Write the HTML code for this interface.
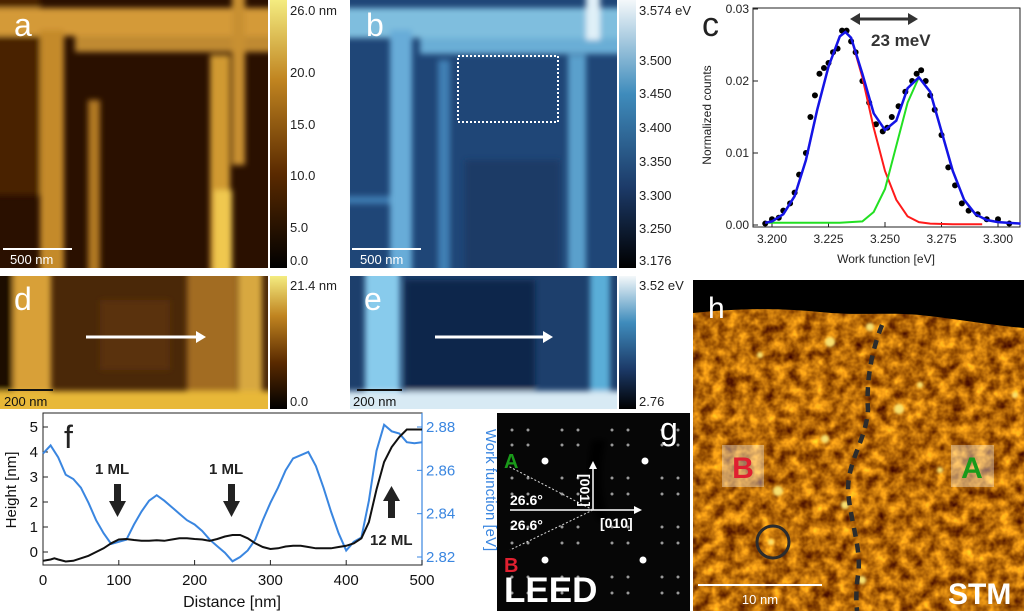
<!DOCTYPE html>
<html><head><meta charset="utf-8">
<style>
html,body{margin:0;padding:0;background:#fff;}
svg{display:block;font-family:"Liberation Sans",Arial,sans-serif;}
</style></head>
<body>
<svg id="fig" width="1024" height="611" viewBox="0 0 1024 611">
<defs>
  <filter id="blur3"><feGaussianBlur stdDeviation="3"/></filter>
  <filter id="blur1"><feGaussianBlur stdDeviation="1.2"/></filter>
  <clipPath id="clipA"><rect x="0" y="0" width="268" height="268"/></clipPath>
  <clipPath id="clipB"><rect x="350" y="0" width="267" height="268"/></clipPath>
  <clipPath id="clipD"><rect x="0" y="276" width="268" height="133"/></clipPath>
  <clipPath id="clipE"><rect x="350" y="276" width="267" height="133"/></clipPath>
  <linearGradient id="cbA" x1="0" y1="1" x2="0" y2="0">
    <stop offset="0" stop-color="#000"/><stop offset="0.35" stop-color="#5a2a00"/><stop offset="0.7" stop-color="#c08420"/><stop offset="1" stop-color="#f4ec80"/>
  </linearGradient>
  <linearGradient id="cbB" x1="0" y1="1" x2="0" y2="0">
    <stop offset="0" stop-color="#000"/><stop offset="0.3" stop-color="#1c3a68"/><stop offset="0.65" stop-color="#3f8cbc"/><stop offset="1" stop-color="#f4f8fa"/>
  </linearGradient>
  <filter id="stmNoise" x="0" y="0" width="100%" height="100%" color-interpolation-filters="sRGB">
    <feTurbulence type="fractalNoise" baseFrequency="0.08" numOctaves="3" seed="4" result="n"/>
    <feColorMatrix in="n" type="matrix" values="1.2 0 0 0 0.12  1.0 0 0 0 -0.08  0.25 0 0 0 -0.09  0 0 0 0 1"/>
  </filter>
</defs>

<!-- Panel a -->
<g>
  <rect x="0" y="0" width="268" height="268" fill="#2a1000"/>
  <g filter="url(#blur3)" clip-path="url(#clipA)">
    <rect x="-10" y="-10" width="50" height="205" fill="#4a2205"/>
    <rect x="-10" y="8" width="290" height="28" fill="#d49a38"/>
    <rect x="75" y="36" width="203" height="16" fill="#c08a30"/>
    <rect x="40" y="30" width="24" height="248" fill="#c48a2a"/>
    <rect x="88" y="100" width="12" height="178" fill="#b07820"/>
    <rect x="210" y="55" width="20" height="223" fill="#d09a30"/>
    <rect x="214" y="190" width="18" height="88" fill="#f0c850"/>
    <rect x="232" y="-10" width="13" height="175" fill="#c89030"/>
  </g>
  <line x1="3" y1="249" x2="72" y2="249" stroke="#fff" stroke-width="2"/>
  <text x="10" y="264" fill="#fff" font-size="13">500 nm</text>
  <text x="14" y="36" fill="#fff" font-size="32">a</text>
  <rect x="270" y="0" width="17" height="268" fill="url(#cbA)"/>
  <g font-size="13" fill="#222">
    <text x="290" y="15">26.0 nm</text><text x="290" y="77">20.0</text><text x="290" y="129">15.0</text>
    <text x="290" y="180">10.0</text><text x="290" y="232">5.0</text><text x="290" y="265">0.0</text>
  </g>
</g>

<!-- Panel b -->
<g>
  <rect x="350" y="0" width="267" height="268" fill="#1f4677"/>
  <g filter="url(#blur3)" clip-path="url(#clipB)">
    <rect x="340" y="8" width="290" height="30" fill="#7fbede"/>
    <rect x="420" y="38" width="207" height="16" fill="#6aaed6"/>
    <rect x="390" y="30" width="22" height="248" fill="#68acd8"/>
    <rect x="438" y="60" width="12" height="218" fill="#3f7fb4"/>
    <rect x="568" y="55" width="18" height="223" fill="#5aa0cc"/>
    <rect x="586" y="-10" width="14" height="50" fill="#e0f0f8"/>
    <rect x="340" y="196" width="50" height="8" fill="#3c7ab0"/>
    <rect x="465" y="160" width="95" height="118" fill="#1a3a66"/>
  </g>
  <rect x="458" y="56" width="100" height="66" fill="none" stroke="#fff" stroke-width="2" stroke-dasharray="2,2"/>
  <line x1="352" y1="249" x2="421" y2="249" stroke="#fff" stroke-width="2"/>
  <text x="360" y="264" fill="#fff" font-size="13">500 nm</text>
  <text x="366" y="36" fill="#fff" font-size="32">b</text>
  <rect x="619" y="0" width="17" height="268" fill="url(#cbB)"/>
  <g font-size="13" fill="#222">
    <text x="639" y="15">3.574 eV</text><text x="639" y="65">3.500</text><text x="639" y="98">3.450</text>
    <text x="639" y="132">3.400</text><text x="639" y="166">3.350</text><text x="639" y="200">3.300</text>
    <text x="639" y="233">3.250</text><text x="639" y="265">3.176</text>
  </g>
</g>

<!-- Panel d -->
<g>
  <rect x="0" y="276" width="268" height="133" fill="#4a2808"/>
  <g filter="url(#blur3)" clip-path="url(#clipD)">
    <rect x="-10" y="266" width="22" height="125" fill="#1a0800"/>
    <rect x="13" y="266" width="38" height="125" fill="#d8a038"/>
    <rect x="100" y="300" width="70" height="70" fill="#5a3210"/>
    <rect x="187" y="266" width="50" height="125" fill="#a26c22"/>
    <rect x="238" y="266" width="24" height="125" fill="#d8a840"/>
    <rect x="-10" y="391" width="290" height="28" fill="#e8b838"/>
  </g>
  <line x1="86" y1="337" x2="196" y2="337" stroke="#fff" stroke-width="3"/>
  <polygon points="196,331 206,337 196,343" fill="#fff"/>
  <line x1="8" y1="390" x2="53" y2="390" stroke="#111" stroke-width="2"/>
  <text x="4" y="406" fill="#111" font-size="13">200 nm</text>
  <text x="14" y="310" fill="#fff" font-size="32">d</text>
  <rect x="270" y="276" width="17" height="133" fill="url(#cbA)"/>
  <text x="290" y="290" font-size="13" fill="#222">21.4 nm</text>
  <text x="290" y="406" font-size="13" fill="#222">0.0</text>
</g>

<!-- Panel e -->
<g>
  <rect x="350" y="276" width="267" height="133" fill="#1d3f6c"/>
  <g filter="url(#blur3)" clip-path="url(#clipE)">
    <rect x="405" y="280" width="130" height="110" fill="#10284c"/>
    <rect x="365" y="266" width="35" height="125" fill="#88cbec"/>
    <rect x="590" y="266" width="20" height="125" fill="#5aaed8"/>
    <rect x="340" y="391" width="290" height="28" fill="#d8eaf4"/>
  </g>
  <line x1="435" y1="337" x2="543" y2="337" stroke="#fff" stroke-width="3"/>
  <polygon points="543,331 553,337 543,343" fill="#fff"/>
  <line x1="357" y1="390" x2="402" y2="390" stroke="#111" stroke-width="2"/>
  <text x="353" y="406" fill="#111" font-size="13">200 nm</text>
  <text x="364" y="310" fill="#fff" font-size="32">e</text>
  <rect x="619" y="276" width="17" height="133" fill="url(#cbB)"/>
  <text x="639" y="290" font-size="13" fill="#222">3.52 eV</text>
  <text x="639" y="406" font-size="13" fill="#222">2.76</text>
</g>

<!-- Panel c chart -->
<g id="panelC">
  <text x="702" y="36" font-size="34" fill="#222">c</text>
  <rect x="753" y="8" width="267" height="219" fill="none" stroke="#222" stroke-width="1"/>
  <text transform="translate(711,115) rotate(-90)" text-anchor="middle" font-size="12" fill="#222">Normalized counts</text>
  <text x="886" y="263" text-anchor="middle" font-size="12" fill="#222">Work function [eV]</text>
  <line x1="855" y1="19" x2="913" y2="19" stroke="#333" stroke-width="3"/>
  <polygon points="850,19 860,13 860,25" fill="#333"/><polygon points="918,19 908,13 908,25" fill="#333"/>
  <text x="871" y="46" font-size="17" font-weight="bold" fill="#333">23 meV</text>
</g>

<!-- Panel f chart -->
<g id="panelF">
  <rect x="43" y="413" width="379" height="152" fill="none" stroke="#222" stroke-width="1"/>
  <line x1="422" y1="413" x2="422" y2="565" stroke="#3a86e0" stroke-width="1.2"/>
  <text x="64" y="448" font-size="32" fill="#222">f</text>
  <text transform="translate(16,490) rotate(-90)" text-anchor="middle" font-size="15" fill="#111">Height [nm]</text>
  <text transform="translate(486,490) rotate(90)" text-anchor="middle" font-size="15" fill="#3a86e0">Work function [eV]</text>
  <text x="232" y="607" text-anchor="middle" font-size="16" fill="#111">Distance [nm]</text>
  <g font-size="15" font-weight="bold" fill="#222">
    <text x="95" y="474">1 ML</text>
    <text x="209" y="474">1 ML</text>
    <text x="370" y="545">12 ML</text>
  </g>
  <g fill="#222">
    <rect x="114" y="484" width="7" height="18"/><polygon points="109,501 126,501 117.5,517"/>
    <rect x="228" y="484" width="7" height="18"/><polygon points="223,501 240,501 231.5,517"/>
    <rect x="388" y="500" width="7" height="18"/><polygon points="383,501 400,501 391.5,486"/>
  </g>
</g>

<!-- Panel g LEED -->
<g id="panelG">
  <rect x="497" y="413" width="193" height="198" fill="#060606"/>
  <g id="smallSpots" fill="#999"></g>
  <path d="M592,440 C585,470 588,500 598,520 L612,525 C600,500 598,470 606,440 Z" fill="#000" filter="url(#blur3)"/>
  <g fill="#fff">
    <circle cx="545" cy="461" r="3.5"/><circle cx="645" cy="461" r="3.5"/>
    <circle cx="545" cy="560" r="3.5"/><circle cx="643" cy="560" r="3.5"/>
  </g>
  <line x1="510" y1="510" x2="637" y2="510" stroke="#fff" stroke-width="1.5"/>
  <polygon points="642,510 634,506 634,514" fill="#fff"/>
  <line x1="593" y1="510" x2="593" y2="467" stroke="#fff" stroke-width="1.5"/>
  <polygon points="593,461 589,469 597,469" fill="#fff"/>
  <line x1="593" y1="510" x2="508" y2="466" stroke="#ddd" stroke-width="1" stroke-dasharray="2,2"/>
  <line x1="593" y1="510" x2="510" y2="550" stroke="#ddd" stroke-width="1" stroke-dasharray="2,2"/>
  <text x="504" y="468" font-size="20" font-weight="bold" fill="#1a9a1a">A</text>
  <text x="504" y="572" font-size="20" font-weight="bold" fill="#e02030">B</text>
  <text x="510" y="505" font-size="14" font-weight="bold" fill="#fff">26.6°</text>
  <text x="510" y="530" font-size="14" font-weight="bold" fill="#fff">26.6°</text>
  <text x="600" y="528" font-size="14" font-weight="bold" fill="#fff">[010]</text>
  <text transform="translate(580,474) rotate(90)" font-size="14" font-weight="bold" fill="#fff">[001]</text>
  <text x="504" y="602" font-size="35" font-weight="bold" fill="#fff">LEED</text>
  <text x="660" y="440" font-size="32" fill="#fff">g</text>
</g>

<!-- Panel h STM -->
<g>
  <rect x="693" y="280" width="331" height="331" fill="#a86a0c"/>
  <rect x="693" y="280" width="331" height="331" filter="url(#stmNoise)"/>
  <g fill="#f8e070" filter="url(#blur1)">
    <circle cx="825" cy="439" r="4"/><circle cx="778" cy="491" r="5"/><circle cx="899" cy="409" r="5"/>
    <circle cx="771" cy="542" r="3"/><circle cx="862" cy="580" r="4"/><circle cx="845" cy="505" r="4"/>
    <circle cx="920" cy="385" r="3"/><circle cx="760" cy="355" r="3"/><circle cx="870" cy="327" r="4"/>
    <circle cx="1015" cy="395" r="3"/><circle cx="940" cy="470" r="3"/><circle cx="830" cy="342" r="5"/>
  </g>
  <path d="M693,280 L1024,280 L1024,328 C990,325 950,318 920,315 C880,312 860,316 820,312 C780,308 740,308 693,313 Z" fill="#000"/>
  <path d="M882,325 C872,350 866,380 868,410 C866,440 848,460 848,490 C850,520 862,550 858,575 C856,590 856,600 857,611" fill="none" stroke="#2c2c2c" stroke-width="4.5" stroke-dasharray="9,7"/>
  <rect x="722" y="445" width="42" height="42" fill="#fff" opacity="0.35"/>
  <text x="743" y="478" text-anchor="middle" font-size="30" font-weight="bold" fill="#e02030">B</text>
  <rect x="951" y="445" width="43" height="42" fill="#fff" opacity="0.35"/>
  <text x="972" y="478" text-anchor="middle" font-size="30" font-weight="bold" fill="#1a9a1a">A</text>
  <circle cx="773" cy="542" r="16" fill="none" stroke="#2c2c2c" stroke-width="3"/>
  <line x1="698" y1="585" x2="822" y2="585" stroke="#fff" stroke-width="2"/>
  <text x="760" y="604" text-anchor="middle" font-size="13" fill="#fff">10 nm</text>
  <text x="948" y="604" font-size="30" font-weight="bold" fill="#fff">STM</text>
  <text x="708" y="318" font-size="30" fill="#fff">h</text>
</g>
</svg>

<script>
// ---------- Panel c data ----------
const cTickX = [3.200, 3.225, 3.250, 3.275, 3.300];
const cTickY = [0.00, 0.01, 0.02, 0.03];
const cFitX = [3.197, 3.200, 3.205, 3.210, 3.215, 3.220, 3.225, 3.230, 3.2325, 3.235, 3.240, 3.245, 3.250, 3.255, 3.260, 3.265, 3.270, 3.275, 3.280, 3.285, 3.290, 3.295, 3.300, 3.310];
const cTotal = [0.0003, 0.0005, 0.0015, 0.004, 0.009, 0.016, 0.022, 0.0262, 0.0268, 0.026, 0.021, 0.0155, 0.0132, 0.0145, 0.019, 0.0205, 0.0185, 0.013, 0.0075, 0.0035, 0.0015, 0.0007, 0.0004, 0.0002];
const cRedX = [3.197, 3.200, 3.205, 3.210, 3.215, 3.220, 3.225, 3.230, 3.2325, 3.235, 3.240, 3.245, 3.250, 3.255, 3.260, 3.265, 3.270, 3.280, 3.293];
const cRed = [0.0003, 0.0005, 0.0015, 0.004, 0.009, 0.016, 0.022, 0.0262, 0.0268, 0.026, 0.0205, 0.0135, 0.0075, 0.0035, 0.0012, 0.0004, 0.0002, 0.0001, 0.0001];
const cGreenX = [3.198, 3.230, 3.240, 3.245, 3.250, 3.255, 3.260, 3.265, 3.270, 3.275, 3.280, 3.285, 3.290, 3.293];
const cGreen = [0.0003, 0.0003, 0.0005, 0.0018, 0.005, 0.011, 0.017, 0.0205, 0.0185, 0.013, 0.0075, 0.0035, 0.0015, 0.001];
const cDotX = [3.197, 3.200, 3.203, 3.205, 3.208, 3.210, 3.212, 3.215, 3.217, 3.219, 3.221, 3.223, 3.225, 3.227, 3.229, 3.231, 3.233, 3.235, 3.237, 3.240, 3.243, 3.246, 3.249, 3.251, 3.253, 3.256, 3.259, 3.262, 3.264, 3.266, 3.268, 3.270, 3.272, 3.275, 3.278, 3.281, 3.284, 3.287, 3.291, 3.295, 3.300, 3.305];
const cDotY = [0.0002, 0.0008, 0.0010, 0.0020, 0.0030, 0.0045, 0.0070, 0.0100, 0.0150, 0.0180, 0.0210, 0.0218, 0.0225, 0.0240, 0.0245, 0.0270, 0.0270, 0.0255, 0.0240, 0.0200, 0.0170, 0.0140, 0.0130, 0.0135, 0.0150, 0.0165, 0.0185, 0.0200, 0.0210, 0.0215, 0.0200, 0.0180, 0.0160, 0.0125, 0.0080, 0.0055, 0.0030, 0.0020, 0.0015, 0.0008, 0.0008, 0.0002];

// ---------- Panel f data ----------
const fTickX = [0, 100, 200, 300, 400, 500];
const fTickH = [0, 1, 2, 3, 4, 5];
const fTickW = [2.82, 2.84, 2.86, 2.88];
const fHeightX = [0,10,15,20,30,40,50,60,70,80,90,100,110,120,130,140,150,160,170,180,190,200,210,220,230,240,250,260,270,280,290,300,310,320,330,340,350,360,370,380,390,400,410,420,430,440,450,460,470,480,490,500];
const fHeight = [-0.35,-0.3,-0.25,-0.3,-0.38,-0.35,-0.25,-0.15,0,0.15,0.35,0.5,0.52,0.48,0.45,0.45,0.47,0.45,0.5,0.55,0.55,0.52,0.5,0.45,0.52,0.62,0.68,0.68,0.55,0.35,0.2,0.12,0.15,0.22,0.25,0.25,0.2,0.15,0.15,0.15,0.2,0.25,0.35,0.55,1.2,2.5,3.6,4.2,4.6,4.9,4.9,4.9];
const fWfX = [0,10,20,30,40,50,60,70,80,90,100,110,120,130,140,150,160,170,180,190,200,210,220,230,240,250,260,270,280,290,300,310,320,330,340,350,360,370,380,390,400,410,420,430,440,450,460,470,480,490,500];
const fWf = [2.8677,2.8715,2.866,2.858,2.856,2.852,2.845,2.837,2.831,2.826,2.827,2.828,2.835,2.841,2.846,2.8485,2.846,2.843,2.840,2.837,2.835,2.832,2.828,2.825,2.822,2.818,2.820,2.823,2.828,2.837,2.845,2.852,2.860,2.8655,2.867,2.8685,2.862,2.852,2.841,2.831,2.823,2.827,2.829,2.846,2.869,2.881,2.878,2.877,2.873,2.8725,2.873];

const NS = "http://www.w3.org/2000/svg";
function mk(tag, attrs, parent) {
  const e = document.createElementNS(NS, tag);
  for (const k in attrs) e.setAttribute(k, attrs[k]);
  parent.appendChild(e);
  return e;
}
function linePath(xs, ys, fx, fy) {
  return xs.map((v, i) => (i ? "L" : "M") + fx(v).toFixed(1) + "," + fy(ys[i]).toFixed(1)).join(" ");
}

// Panel c
const gc = document.getElementById("panelC");
const cx = v => 772 + (v - 3.2) / 0.1 * 226;
const cy = v => 225 - v / 0.03 * 216;
cTickY.forEach(t => {
  const tk = mk("line", {x1: 753, x2: 758, y1: cy(t), y2: cy(t), stroke: "#222"}, gc);
  
  
  const lb = mk("text", {x: 749, y: cy(t) + 4, "text-anchor": "end", "font-size": 12, fill: "#222"}, gc);
  lb.textContent = t.toFixed(2);
  
  
});
cTickX.forEach(t => {
  const tk = mk("line", {x1: cx(t), x2: cx(t), y1: 227, y2: 222, stroke: "#222"}, gc);
  
  
  const lb = mk("text", {x: cx(t), y: 243, "text-anchor": "middle", "font-size": 12, fill: "#222"}, gc);
  lb.textContent = t.toFixed(3);
  
  
});
cDotX.forEach((v, i) => {
  const d = mk("circle", {cx: cx(v), cy: cy(cDotY[i]), r: 3, fill: "#000"}, gc);
  
  
});
const pr = mk("path", {d: linePath(cRedX, cRed, cx, cy), fill: "none", stroke: "#ff1a1a", "stroke-width": 2}, gc);


const pg = mk("path", {d: linePath(cGreenX, cGreen, cx, cy), fill: "none", stroke: "#22e022", "stroke-width": 2}, gc);


const pb = mk("path", {d: linePath(cFitX, cTotal, cx, cy), fill: "none", stroke: "#1414e6", "stroke-width": 2.5}, gc);



// Panel f
const gf = document.getElementById("panelF");
const fx = v => 43 + v / 500 * 379;
const fyH = v => 552 - v * 25;
const fyW = v => 557 - (v - 2.82) / 0.06 * 130;
fTickX.forEach(t => {
  const tk = mk("line", {x1: fx(t), x2: fx(t), y1: 565, y2: 560, stroke: "#222"}, gf);
  
  
  const lb = mk("text", {x: fx(t), y: 585, "text-anchor": "middle", "font-size": 15, fill: "#111"}, gf);
  lb.textContent = t;
  
  
});
fTickH.forEach(t => {
  const tk = mk("line", {x1: 43, x2: 48, y1: fyH(t), y2: fyH(t), stroke: "#222"}, gf);
  
  
  const lb = mk("text", {x: 38, y: fyH(t) + 5, "text-anchor": "end", "font-size": 15, fill: "#111"}, gf);
  lb.textContent = t;
  
  
});
fTickW.forEach(t => {
  const tk = mk("line", {x1: 417, x2: 422, y1: fyW(t), y2: fyW(t), stroke: "#3a86e0"}, gf);
  
  
  const lb = mk("text", {x: 426, y: fyW(t) + 5, "font-size": 15, fill: "#3a86e0"}, gf);
  lb.textContent = t.toFixed(2);
  
  
});
const lw = mk("path", {d: linePath(fWfX, fWf, fx, fyW), fill: "none", stroke: "#3a86e0", "stroke-width": 2}, gf);


const lh = mk("path", {d: linePath(fHeightX, fHeight, fx, fyH), fill: "none", stroke: "#111", "stroke-width": 2}, gf);



// LEED small spots
const gs = document.getElementById("smallSpots");
const spotCols = [512, 528, 562, 578, 612, 628, 662, 678];
const spotRows = [430, 445, 478, 494, 527, 543, 577, 593];
spotCols.forEach(x => spotRows.forEach(y => {
  const s = mk("circle", {cx: x, cy: y, r: 1.5}, gs);
  
  
}));
</script>
</body></html>
